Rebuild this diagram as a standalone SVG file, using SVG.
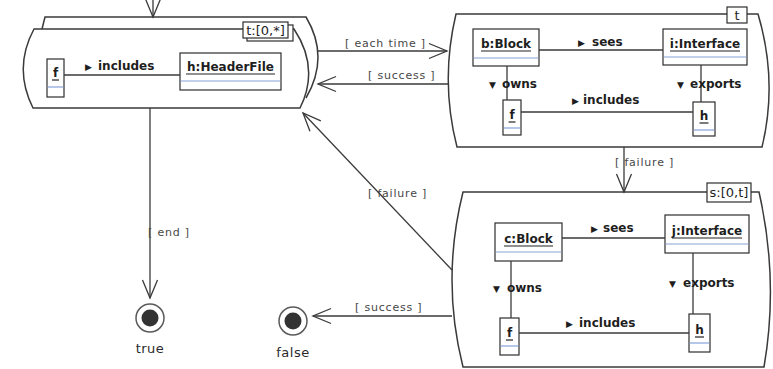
<svg xmlns="http://www.w3.org/2000/svg" width="773" height="369" viewBox="0 0 773 369">
  <defs>
    <style>
      .frame { fill: #ffffff; stroke: #3a3a3a; stroke-width: 1.5; }
      .obj { fill: #ffffff; stroke: #2e2e2e; stroke-width: 1.2; }
      .sep { stroke: #86a2da; stroke-width: 1.2; }
      .uline { stroke: #222222; stroke-width: 1.2; }
      .name { font-family: "DejaVu Sans", sans-serif; font-weight: bold; font-size: 12px; fill: #1e1e1e; text-anchor: middle; }
      .tag { font-family: "DejaVu Sans", sans-serif; font-size: 13px; fill: #1e1e1e; text-anchor: middle; }
      .link { fill: none; stroke: #3a3a3a; stroke-width: 1.3; }
      .role { font-family: "DejaVu Sans", sans-serif; font-weight: bold; font-size: 12px; fill: #1e1e1e; }
      .tri { font-size: 9px; }
      .guard { font-family: "DejaVu Sans", sans-serif; font-size: 11px; letter-spacing: 0.8px; fill: #474747; }
      .final { font-family: "DejaVu Sans", sans-serif; font-size: 13px; letter-spacing: 0.5px; fill: #2a2a2a; text-anchor: middle; }
    </style>
    <marker id="open" markerUnits="userSpaceOnUse" markerWidth="24" markerHeight="20" viewBox="-20 -10 24 20" refX="0" refY="0" orient="auto">
      <path d="M-18,-7.5 L0,0 L-18,7.5" fill="none" stroke="#3a3a3a" stroke-width="1.3"/>
    </marker>
  </defs>

  <!-- iterated pattern t:[0,*] -->
  <g id="loop-t">
    <path class="frame" fill="none" d="M42,29 L45,17 L306,17 Q330,57 306,98"/>
    <path class="frame" d="M34,29 L294,29 Q320,68 300,108 L33,108 Q13,68 34,29 Z"/>
    <rect class="obj" x="247" y="25" width="46" height="16"/>
    <rect class="obj" x="243" y="22" width="45" height="16"/>
    <text class="tag" x="265.5" y="35">t:[0,*]</text>
    <g id="loop-f">
      <rect class="obj" x="47" y="59" width="17" height="38"/>
      <text class="name" x="55.5" y="77">f</text>
      <line class="uline" x1="52" y1="80" x2="59" y2="80"/>
      <line class="sep" x1="47.6" y1="87" x2="63.4" y2="87"/>
    </g>
    <g id="loop-h">
      <rect class="obj" x="180" y="53" width="101" height="37"/>
      <text class="name" x="230.5" y="71">h:HeaderFile</text>
      <line class="uline" x1="186" y1="74" x2="275" y2="74"/>
      <line class="sep" x1="180.6" y1="81" x2="280.4" y2="81"/>
    </g>
  </g>

  <!-- pattern t -->
  <g id="pattern-t">
    <path class="frame" d="M456,14 L758,14 Q778,81 762,147 L457,147 Q440,81 456,14 Z"/>
    <rect class="obj" x="727" y="7" width="20" height="16"/>
    <text class="tag" x="737" y="20">t</text>
    <g id="t-b">
      <rect class="obj" x="473" y="29" width="66" height="37"/>
      <text class="name" x="506" y="48">b:Block</text>
      <line class="uline" x1="481" y1="51" x2="531" y2="51"/>
      <line class="sep" x1="473.6" y1="58" x2="538.4" y2="58"/>
    </g>
    <g id="t-i">
      <rect class="obj" x="663" y="29" width="84" height="36"/>
      <text class="name" x="705" y="48">i:Interface</text>
      <line class="uline" x1="670" y1="51" x2="740" y2="51"/>
      <line class="sep" x1="663.6" y1="57" x2="746.4" y2="57"/>
    </g>
    <g id="t-f">
      <rect class="obj" x="503" y="100" width="18" height="35"/>
      <text class="name" x="512" y="119">f</text>
      <line class="uline" x1="508.5" y1="122" x2="515.5" y2="122"/>
      <line class="sep" x1="503.6" y1="128" x2="520.4" y2="128"/>
    </g>
    <g id="t-h">
      <rect class="obj" x="693" y="102" width="22" height="34"/>
      <text class="name" x="704" y="120">h</text>
      <line class="uline" x1="699.5" y1="123" x2="708.5" y2="123"/>
      <line class="sep" x1="693.6" y1="130" x2="714.4" y2="130"/>
    </g>
  </g>

  <!-- pattern s:[0,t] -->
  <g id="pattern-s">
    <path class="frame" d="M463,192 L759,192 Q779,280 764,367 L463,367 Q441,280 463,192 Z"/>
    <rect class="obj" x="707" y="183" width="44" height="19"/>
    <text class="tag" x="729" y="197">s:[0,t]</text>
    <g id="s-c">
      <rect class="obj" x="495" y="223" width="67" height="38"/>
      <text class="name" x="528.5" y="243">c:Block</text>
      <line class="uline" x1="504" y1="246" x2="553" y2="246"/>
      <line class="sep" x1="495.6" y1="252" x2="561.4" y2="252"/>
    </g>
    <g id="s-j">
      <rect class="obj" x="665" y="215" width="84" height="38"/>
      <text class="name" x="707" y="235">j:Interface</text>
      <line class="uline" x1="672" y1="238" x2="742" y2="238"/>
      <line class="sep" x1="665.6" y1="244" x2="748.4" y2="244"/>
    </g>
    <g id="s-f">
      <rect class="obj" x="500" y="318" width="19" height="37"/>
      <text class="name" x="509.5" y="337">f</text>
      <line class="uline" x1="506" y1="340" x2="513" y2="340"/>
      <line class="sep" x1="500.6" y1="346" x2="518.4" y2="346"/>
    </g>
    <g id="s-h">
      <rect class="obj" x="689" y="314" width="21" height="38"/>
      <text class="name" x="699.5" y="334">h</text>
      <line class="uline" x1="695" y1="337" x2="704" y2="337"/>
      <line class="sep" x1="689.6" y1="343" x2="709.4" y2="343"/>
    </g>
  </g>

  <!-- final states -->
  <g id="final-true">
    <circle cx="150" cy="318" r="14" fill="#ffffff" stroke="#5a5a5a" stroke-width="1.5"/>
    <circle cx="150" cy="318" r="8.5" fill="#333333"/>
    <text class="final" x="150" y="353">true</text>
  </g>
  <g id="final-false">
    <circle cx="293" cy="321" r="14" fill="#ffffff" stroke="#5a5a5a" stroke-width="1.5"/>
    <circle cx="293" cy="321" r="8.5" fill="#333333"/>
    <text class="final" x="293" y="357">false</text>
  </g>

  <!-- connectors -->
  <g id="connectors">
    <!-- transitions between patterns -->
    <line class="link" x1="153" y1="-2" x2="153" y2="17" marker-end="url(#open)"/>
    <line class="link" x1="150" y1="108" x2="150" y2="298" marker-end="url(#open)"/>
    <text class="guard" x="148" y="236">[ end ]</text>

    <line class="link" x1="317" y1="51" x2="447" y2="51" marker-end="url(#open)"/>
    <text class="guard" x="345" y="47">[ each time ]</text>

    <line class="link" x1="448" y1="84" x2="318" y2="84" marker-end="url(#open)"/>
    <text class="guard" x="368" y="79">[ success ]</text>

    <line class="link" x1="624" y1="147" x2="624" y2="192" marker-end="url(#open)"/>
    <text class="guard" x="615" y="166">[ failure ]</text>

    <line class="link" x1="452" y1="270" x2="303" y2="113" marker-end="url(#open)"/>
    <text class="guard" x="368" y="197">[ failure ]</text>

    <line class="link" x1="452" y1="316" x2="313" y2="316" marker-end="url(#open)"/>
    <text class="guard" x="355" y="311">[ success ]</text>

    <!-- links inside loop-t -->
    <line class="link" x1="64" y1="75" x2="180" y2="75"/>
    <text class="role" y="70"><tspan class="tri" x="85">▶</tspan><tspan x="98">includes</tspan></text>

    <!-- links inside pattern t -->
    <line class="link" x1="539" y1="50" x2="663" y2="50"/>
    <text class="role" y="46"><tspan class="tri" x="578">▶</tspan><tspan x="592">sees</tspan></text>
    <line class="link" x1="507" y1="66" x2="507" y2="100"/>
    <text class="role" y="88"><tspan class="tri" x="489">▼</tspan><tspan x="502">owns</tspan></text>
    <line class="link" x1="701" y1="65" x2="701" y2="102"/>
    <text class="role" y="88"><tspan class="tri" x="677">▼</tspan><tspan x="690">exports</tspan></text>
    <line class="link" x1="521" y1="112" x2="693" y2="112"/>
    <text class="role" y="104"><tspan class="tri" x="572">▶</tspan><tspan x="583">includes</tspan></text>

    <!-- links inside pattern s -->
    <line class="link" x1="562" y1="238" x2="665" y2="238"/>
    <text class="role" y="232"><tspan class="tri" x="591">▶</tspan><tspan x="603">sees</tspan></text>
    <line class="link" x1="511" y1="261" x2="511" y2="318"/>
    <text class="role" y="292"><tspan class="tri" x="493">▼</tspan><tspan x="507">owns</tspan></text>
    <line class="link" x1="693" y1="253" x2="693" y2="314"/>
    <text class="role" y="287"><tspan class="tri" x="669">▼</tspan><tspan x="683">exports</tspan></text>
    <line class="link" x1="519" y1="333" x2="689" y2="333"/>
    <text class="role" y="327"><tspan class="tri" x="566">▶</tspan><tspan x="579">includes</tspan></text>
  </g>
</svg>
